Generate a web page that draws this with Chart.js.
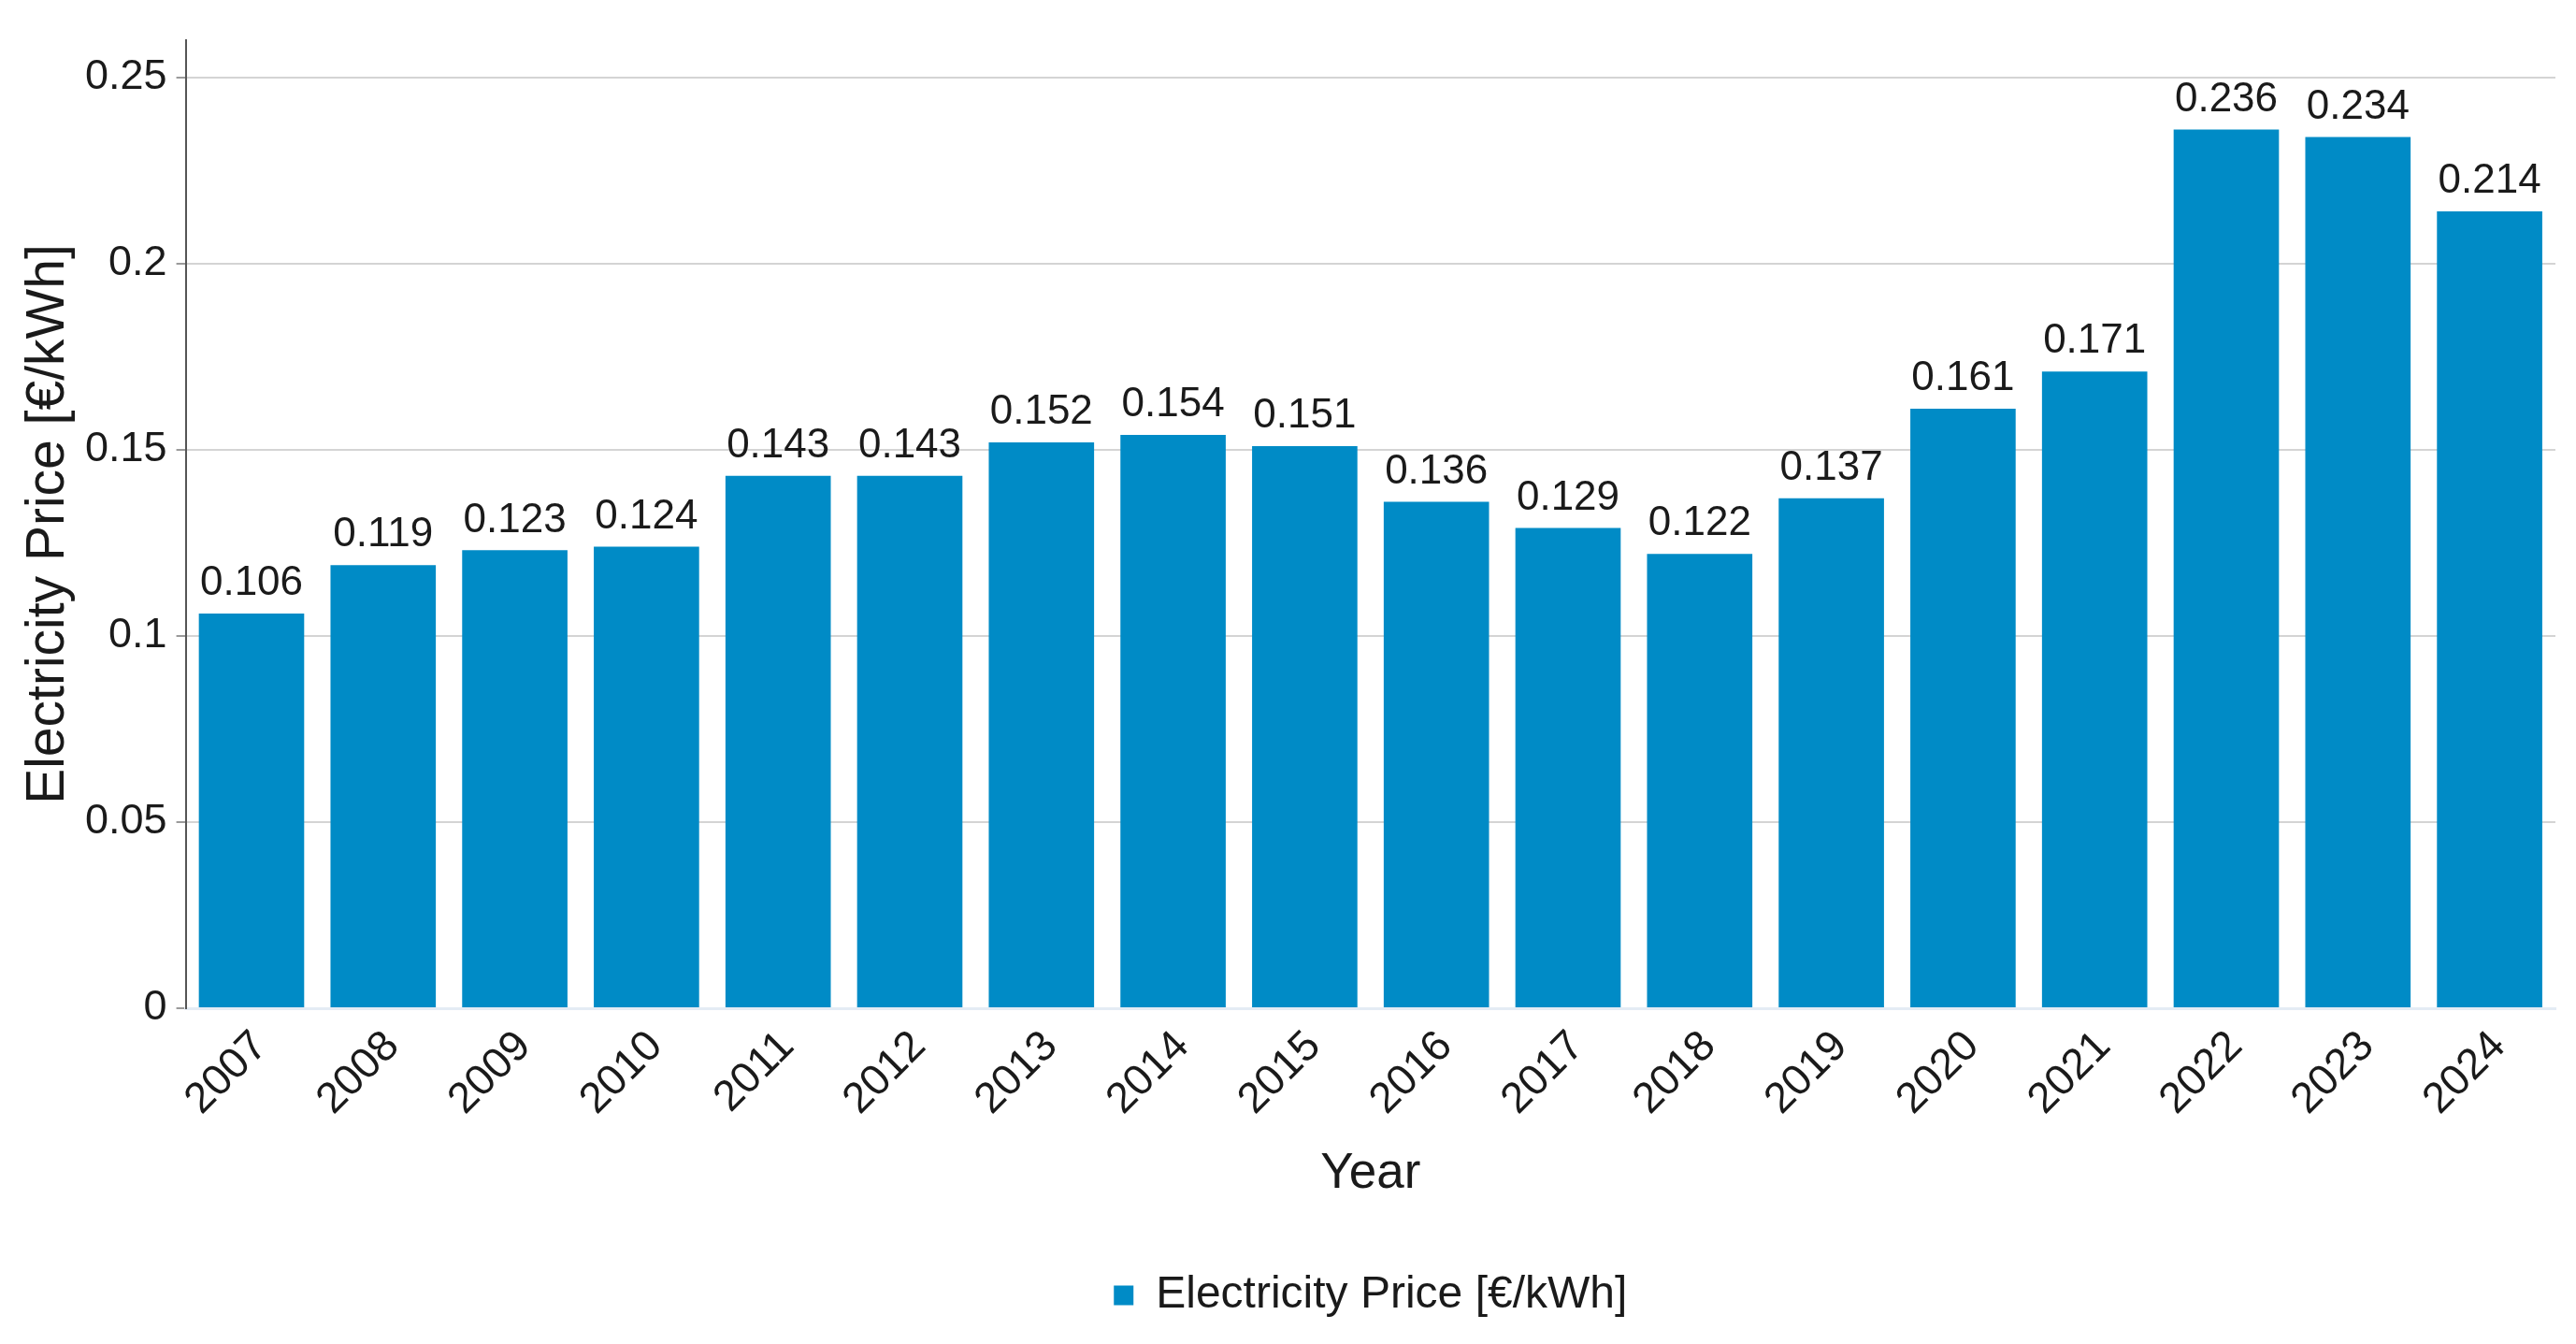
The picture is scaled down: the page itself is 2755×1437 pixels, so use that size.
<!DOCTYPE html>
<html>
<head>
<meta charset="utf-8">
<script src="https://cdn.jsdelivr.net/npm/chart.js@4"></script>
<style>
  html, body { margin: 0; padding: 0; background: #fff; }
  #wrap { width: 2755px; height: 1437px; }
</style>
</head>
<body>
<div id="wrap"><canvas id="priceChart"></canvas></div>
<script>
// years on the x axis
const years = ['2007', '2008', '2009', '2010', '2011', '2012', '2013', '2014', '2015',
               '2016', '2017', '2018', '2019', '2020', '2021', '2022', '2023', '2024'];

// electricity price per year [€/kWh]
const prices = [0.106, 0.119, 0.123, 0.124, 0.143, 0.143, 0.152, 0.154, 0.151,
                0.136, 0.129, 0.122, 0.137, 0.161, 0.171, 0.236, 0.234, 0.214];

const seriesName = 'Electricity Price [€/kWh]';
const yTicks = [0, 0.05, 0.1, 0.15, 0.2, 0.25];

const FONT = "'Liberation Sans', Arial, sans-serif";

// writes the value above every bar
const valueLabels = {
    id: 'valueLabels',
    afterDatasetsDraw(chart) {
        const ctx = chart.ctx;
        const meta = chart.getDatasetMeta(0);
        ctx.save();
        ctx.font = '44px ' + FONT;
        ctx.fillStyle = '#1a1a1a';
        ctx.textAlign = 'center';
        ctx.textBaseline = 'bottom';
        meta.data.forEach((bar, i) => {
            ctx.fillText(String(prices[i]), bar.x, bar.y - 10);
        });
        ctx.restore();
    }
};

const ctx = document.getElementById('priceChart').getContext('2d');
new Chart(ctx, {
    type: 'bar',
    data: {
        labels: years,
        datasets: [{
            label: seriesName,
            data: prices,
            backgroundColor: '#008bc6',
            borderWidth: 0,
            barPercentage: 0.8,
            categoryPercentage: 1.0
        }]
    },
    options: {
        responsive: true,
        maintainAspectRatio: false,
        animation: false,
        devicePixelRatio: 1,
        layout: { padding: { top: 43, right: 22, left: 24, bottom: 18 } },
        plugins: {
            tooltip: { enabled: false },
            legend: {
                position: 'bottom',
                fullSize: false,
                labels: {
                    font: { family: FONT, size: 48 },
                    color: '#1a1a1a',
                    boxWidth: 21,
                    boxHeight: 21,
                    padding: 10
                }
            }
        },
        scales: {
            x: {
                grid: { display: false },
                border: { display: true, color: '#e4ecf4', width: 3 },
                ticks: {
                    font: { family: FONT, size: 46 },
                    color: '#1a1a1a',
                    maxRotation: 45,
                    minRotation: 45,
                    padding: 6,
                    labelOffset: 10
                },
                title: {
                    display: true,
                    text: 'Year',
                    font: { family: FONT, size: 53 },
                    color: '#1a1a1a',
                    padding: { top: 14, bottom: 64 }
                }
            },
            y: {
                min: 0,
                max: 0.26,
                afterBuildTicks(axis) {
                    axis.ticks = yTicks.map(v => ({ value: v }));
                },
                grid: {
                    color: '#d4d4d4',
                    lineWidth: 2,
                    drawTicks: true,
                    tickLength: 10,
                    tickColor: '#9a9a9a'
                },
                border: { display: true, color: '#555', width: 2 },
                ticks: {
                    font: { family: FONT, size: 45 },
                    color: '#1a1a1a',
                    padding: 10,
                    callback: v => String(v)
                },
                title: {
                    display: true,
                    text: seriesName,
                    font: { family: FONT, size: 57, lineHeight: 1.0 },
                    color: '#1a1a1a',
                    padding: { top: 0, bottom: 0 }
                }
            }
        }
    },
    plugins: [valueLabels]
});
</script>
</body>
</html>
